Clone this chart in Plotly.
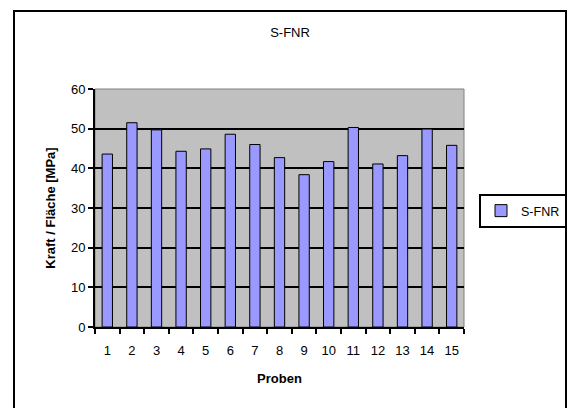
import plotly.graph_objects as go

categories = [str(i) for i in range(1, 16)]
values = [43.6, 51.5, 49.7, 44.3, 44.9, 48.6, 46.0, 42.7, 38.4, 41.7, 50.3, 41.1, 43.2, 49.9, 45.8]
series_name = "S-FNR"
y_ticks = [0, 10, 20, 30, 40, 50, 60]

FONT = "Liberation Sans, Arial, sans-serif"

fig = go.Figure()
fig.add_trace(go.Bar(
    x=categories, y=values, name=series_name,
    marker=dict(color="#9999FF", line=dict(color="black", width=1)),
    width=0.42, showlegend=True,
))

L, R, T, B = 95, 105, 89, 81
W, H = 569, 408
pw, ph = W - L - R, H - T - B

def px_x(p):
    return (p - L) / pw

def px_y(p):
    return (H - B - p) / ph

fig.update_layout(
    width=W, height=H,
    margin=dict(l=L, r=R, t=T, b=B, pad=0, autoexpand=False),
    paper_bgcolor="white", plot_bgcolor="#C0C0C0",
    font=dict(family=FONT, size=13, color="black"),
    title=dict(text="S-FNR", x=px_x(290), xanchor="center", xref="paper",
               y=1 - 32 / H, yanchor="middle", font=dict(size=13)),
    showlegend=True,
    legend=dict(x=px_x(479), y=px_y(194), xanchor="left", yanchor="top",
                bordercolor="black", borderwidth=2, bgcolor="white",
                font=dict(size=12.5), itemwidth=30, tracegroupgap=0),
    xaxis=dict(
        type="category", tickson="boundaries", ticks="outside", ticklen=5,
        tickwidth=2, tickcolor="black", showline=True, linecolor="black",
        linewidth=2, showgrid=False, tickfont=dict(size=13), tickangle=0,
        automargin=False, ticklabelstandoff=10,
        title=dict(text="<b>Proben</b>", font=dict(size=13), standoff=17),
    ),
    yaxis=dict(
        range=[0, 60], tickvals=y_ticks, ticks="outside", ticklen=5,
        tickwidth=2, tickcolor="black", showline=True, linecolor="black",
        linewidth=2, showgrid=True, gridcolor="black", gridwidth=1.5,
        zeroline=False, tickfont=dict(size=13), automargin=False,
        title=dict(text="<b>Kraft / Fläche [MPa]</b>", font=dict(size=13), standoff=12),
    ),
    shapes=[
        dict(type="rect", xref="paper", yref="paper", x0=0, x1=1, y0=0, y1=1,
             line=dict(color="#808080", width=1), layer="below"),
        dict(type="rect", xref="paper", yref="paper",
             x0=px_x(14), x1=px_x(566), y0=px_y(11), y1=px_y(430),
             line=dict(color="black", width=2)),
    ],
)

fig.write_html("out.html")
